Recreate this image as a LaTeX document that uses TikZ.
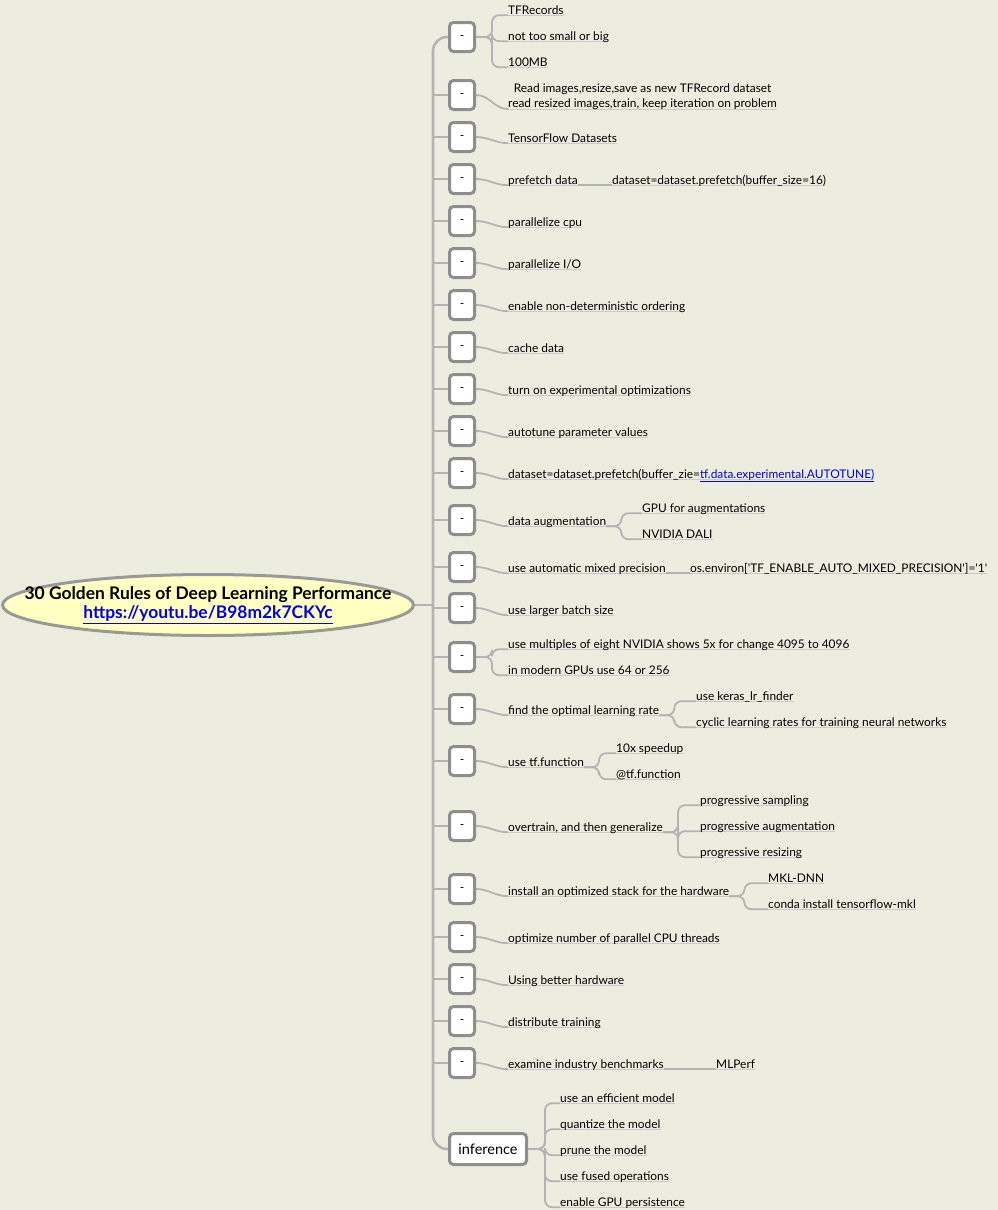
\documentclass[tikz,border=0pt]{standalone}
\usepackage{fontspec}
\setmainfont{Lato}
\usetikzlibrary{shapes.geometric}
\definecolor{bg}{HTML}{EDEDDF}
\definecolor{linegray}{HTML}{B3B3B3}
\definecolor{boxgray}{HTML}{8E8E8E}
\definecolor{rootfill}{HTML}{FFFFC2}
\definecolor{rootline}{HTML}{999999}
\definecolor{linkblue}{HTML}{0000EE}
\pgfdeclarelayer{bgfill}
\pgfdeclarelayer{under}
\pgfsetlayers{bgfill,under,main}
\newcommand{\lf}{\fontsize{11.9}{14}\selectfont}
\newcommand{\sq}{\textquotesingle}
\tikzset{
 spine/.style={draw=linegray, line width=2.6pt, rounded corners=14pt},
 conn/.style={draw=linegray, line width=1.8pt, rounded corners=7pt},
 uline/.style={draw=linegray!70, line width=1pt},
 dashbox/.style={draw=boxgray, line width=3pt, rounded corners=4pt, fill=white,
   minimum width=25pt, minimum height=29pt, inner sep=0pt, font=\lf},
 infbox/.style={draw=boxgray, line width=3pt, rounded corners=4pt, fill=white,
   minimum width=77pt, minimum height=31pt, inner sep=0pt, font=\fontsize{14.5}{16}\selectfont},
 leafbase/.style={anchor=west, inner xsep=0pt, inner ysep=0.5pt, text depth=0.5pt, font=\lf},
 leaf/.style={leafbase, text height=8.5pt},
 rootnode/.style={ellipse, draw=rootline, line width=3pt, fill=rootfill,
   minimum width=411pt, minimum height=61pt, inner sep=0pt},
 roottext/.style={align=center, inner sep=0pt, font=\bfseries\fontsize{17.4}{20}\selectfont},
}
\begin{document}
\begin{tikzpicture}[x=1pt,y=-1pt]
\begin{pgfonlayer}{bgfill}
\fill[bg] (0,0) rectangle (998,1210);
\end{pgfonlayer}
\useasboundingbox (0,0) rectangle (998,1210);

% root
\node[rootnode] (root) at (208,605) {};
\node[roottext] (roottxt) at (root.center) {30 Golden Rules of Deep Learning Performance\\[-1pt]
  \textcolor{linkblue}{\underline{https://youtu.be/B98m2k7CKYc}}};
\coordinate (hub) at (433,605);

% boxes
\node[dashbox] (b1) at (462,37) {-};
\node[dashbox] (b2) at (462,95) {-};
\node[dashbox] (b3) at (462,137) {-};
\node[dashbox] (b4) at (462,179) {-};
\node[dashbox] (b5) at (462,221) {-};
\node[dashbox] (b6) at (462,263) {-};
\node[dashbox] (b7) at (462,305) {-};
\node[dashbox] (b8) at (462,347) {-};
\node[dashbox] (b9) at (462,389) {-};
\node[dashbox] (b10) at (462,431) {-};
\node[dashbox] (b11) at (462,473) {-};
\node[dashbox] (b12) at (462,520) {-};
\node[dashbox] (b13) at (462,567) {-};
\node[dashbox] (b14) at (462,608) {-};
\node[dashbox] (b15) at (462,657) {-};
\node[dashbox] (b16) at (462,709) {-};
\node[dashbox] (b17) at (462,761) {-};
\node[dashbox] (b18) at (462,826) {-};
\node[dashbox] (b19) at (462,889) {-};
\node[dashbox] (b20) at (462,937) {-};
\node[dashbox] (b21) at (462,979) {-};
\node[dashbox] (b22) at (462,1021) {-};
\node[dashbox] (b23) at (462,1063) {-};
\node[infbox] (inf) at (488,1149) {inference};

% leaves
\node[leaf] (c1a) at (508,10) {TFRecords};
\node[leaf] (c1b) at (508,36) {not too small or big};
\node[leaf] (c1c) at (508,62) {100MB};
\node[leafbase, align=center] (c2) at (508,96) {Read images,resize,save as new TFRecord dataset\\[1.5pt]read resized images,train, keep iteration on problem};
\node[leaf] (c3) at (508,138) {TensorFlow Datasets};
\node[leaf] (c4) at (508,180) {prefetch data};
\node[leaf] (c4b) at (612,180) {dataset=dataset.prefetch(buffer\_size=16)};
\node[leaf] (c5) at (508,222) {parallelize cpu};
\node[leaf] (c6) at (508,264) {parallelize I/O};
\node[leaf] (c7) at (508,306) {enable non-deterministic ordering};
\node[leaf] (c8) at (508,348) {cache data};
\node[leaf] (c9) at (508,390) {turn on experimental optimizations};
\node[leaf] (c10) at (508,432) {autotune parameter values};
\node[leaf] (c11) at (508,474) {dataset=dataset.prefetch(buffer\_zie=\textcolor{linkblue}{\underline{tf.data.experimental.AUTOTUNE)}}};
\node[leaf] (c12) at (508,521) {data augmentation};
\node[leaf] (c12a) at (642,508) {GPU for augmentations};
\node[leaf] (c12b) at (642,534) {NVIDIA DALI};
\node[leaf] (c13) at (508,568) {use automatic mixed precision};
\node[leaf] (c13b) at (690,568) {os.environ[\sq TF\_ENABLE\_AUTO\_MIXED\_PRECISION\sq]=\sq 1\sq};
\node[leaf] (c14) at (508,610) {use larger batch size};
\node[leaf] (c15a) at (508,644) {use multiples of eight NVIDIA shows 5x for change 4095 to 4096};
\node[leaf] (c15b) at (508,670) {in modern GPUs use 64 or 256};
\node[leaf] (c16) at (508,710) {find the optimal learning rate};
\node[leaf] (c16a) at (696,696) {use keras\_lr\_finder};
\node[leaf] (c16b) at (696,722) {cyclic learning rates for training neural networks};
\node[leaf] (c17) at (508,762) {use tf.function};
\node[leaf] (c17a) at (616,748) {10x speedup};
\node[leaf] (c17b) at (616,774) {@tf.function};
\node[leaf] (c18) at (508,827) {overtrain, and then generalize};
\node[leaf] (c18a) at (700,800) {progressive sampling};
\node[leaf] (c18b) at (700,826) {progressive augmentation};
\node[leaf] (c18c) at (700,852) {progressive resizing};
\node[leaf] (c19) at (508,891) {install an optimized stack for the hardware};
\node[leaf] (c19a) at (768,878) {MKL-DNN};
\node[leaf] (c19b) at (768,904) {conda install tensorflow-mkl};
\node[leaf] (c20) at (508,938) {optimize number of parallel CPU threads};
\node[leaf] (c21) at (508,980) {Using better hardware};
\node[leaf] (c22) at (508,1022) {distribute training};
\node[leaf] (c23) at (508,1064) {examine industry benchmarks};
\node[leaf] (c23b) at (716,1064) {MLPerf};
\node[leaf] (i1) at (560,1098) {use an efficient model};
\node[leaf] (i2) at (560,1124) {quantize the model};
\node[leaf] (i3) at (560,1150) {prune the model};
\node[leaf] (i4) at (560,1176) {use fused operations};
\node[leaf] (i5) at (560,1202) {enable GPU persistence};

\begin{pgfonlayer}{under}
% underlines
\foreach \n in {c1a,c1b,c1c,c2,c3,c4,c4b,c5,c6,c7,c8,c9,c10,c11,c12,c12a,c12b,c13,c13b,c14,c15a,c15b,c16,c16a,c16b,c17,c17a,c17b,c18,c18a,c18b,c18c,c19,c19a,c19b,c20,c21,c22,c23,c23b,i1,i2,i3,i4,i5}
  \draw[uline] (\n.south west) -- (\n.south east);

% spine
\draw[spine] (b1.west) -| (hub) |- (inf.west);
\draw[spine] (root.east) -- (hub);
\foreach \b in {b2,b3,b4,b5,b6,b7,b8,b9,b10,b11,b12,b13,b14,b15,b16,b17,b18,b19,b20,b21,b22,b23}
  \draw[spine] (hub |- \b.west) -- (\b.west);

% first-level connectors
\foreach \c in {c1a,c1b,c1c}
  \draw[conn] (b1.east) -- ++(16,0) |- (\c.south west);
\draw[conn] (b2.east) to[out=0,in=180] (c2.south west);
\foreach \b/\c in {b3/c3,b4/c4,b5/c5,b6/c6,b7/c7,b8/c8,b9/c9,b10/c10,b11/c11,b12/c12,b13/c13,b14/c14,b16/c16,b17/c17,b18/c18,b19/c19,b20/c20,b21/c21,b22/c22,b23/c23}
  \draw[conn] (\b.east) to[out=0,in=180] (\c.south west);
\foreach \c in {c15a,c15b}
  \draw[conn] (b15.east) -- ++(16,0) |- (\c.south west);
\foreach \c in {i1,i2,i3,i4,i5}
  \draw[conn] (inf.east) -- ++(17,0) |- (\c.south west);

% second-level connectors
\draw[conn] (c4.south east) -- (c4b.south west);
\draw[conn] (c13.south east) -- (c13b.south west);
\draw[conn] (c23.south east) -- (c23b.south west);
\foreach \c in {c12a,c12b}
  \draw[conn] (c12.south east) -- ++(15,0) |- (\c.south west);
\foreach \c in {c16a,c16b}
  \draw[conn] (c16.south east) -- ++(15,0) |- (\c.south west);
\foreach \c in {c17a,c17b}
  \draw[conn] (c17.south east) -- ++(15,0) |- (\c.south west);
\foreach \c in {c18a,c18b,c18c}
  \draw[conn] (c18.south east) -- ++(15,0) |- (\c.south west);
\foreach \c in {c19a,c19b}
  \draw[conn] (c19.south east) -- ++(15,0) |- (\c.south west);
\end{pgfonlayer}
\end{tikzpicture}
\end{document}
